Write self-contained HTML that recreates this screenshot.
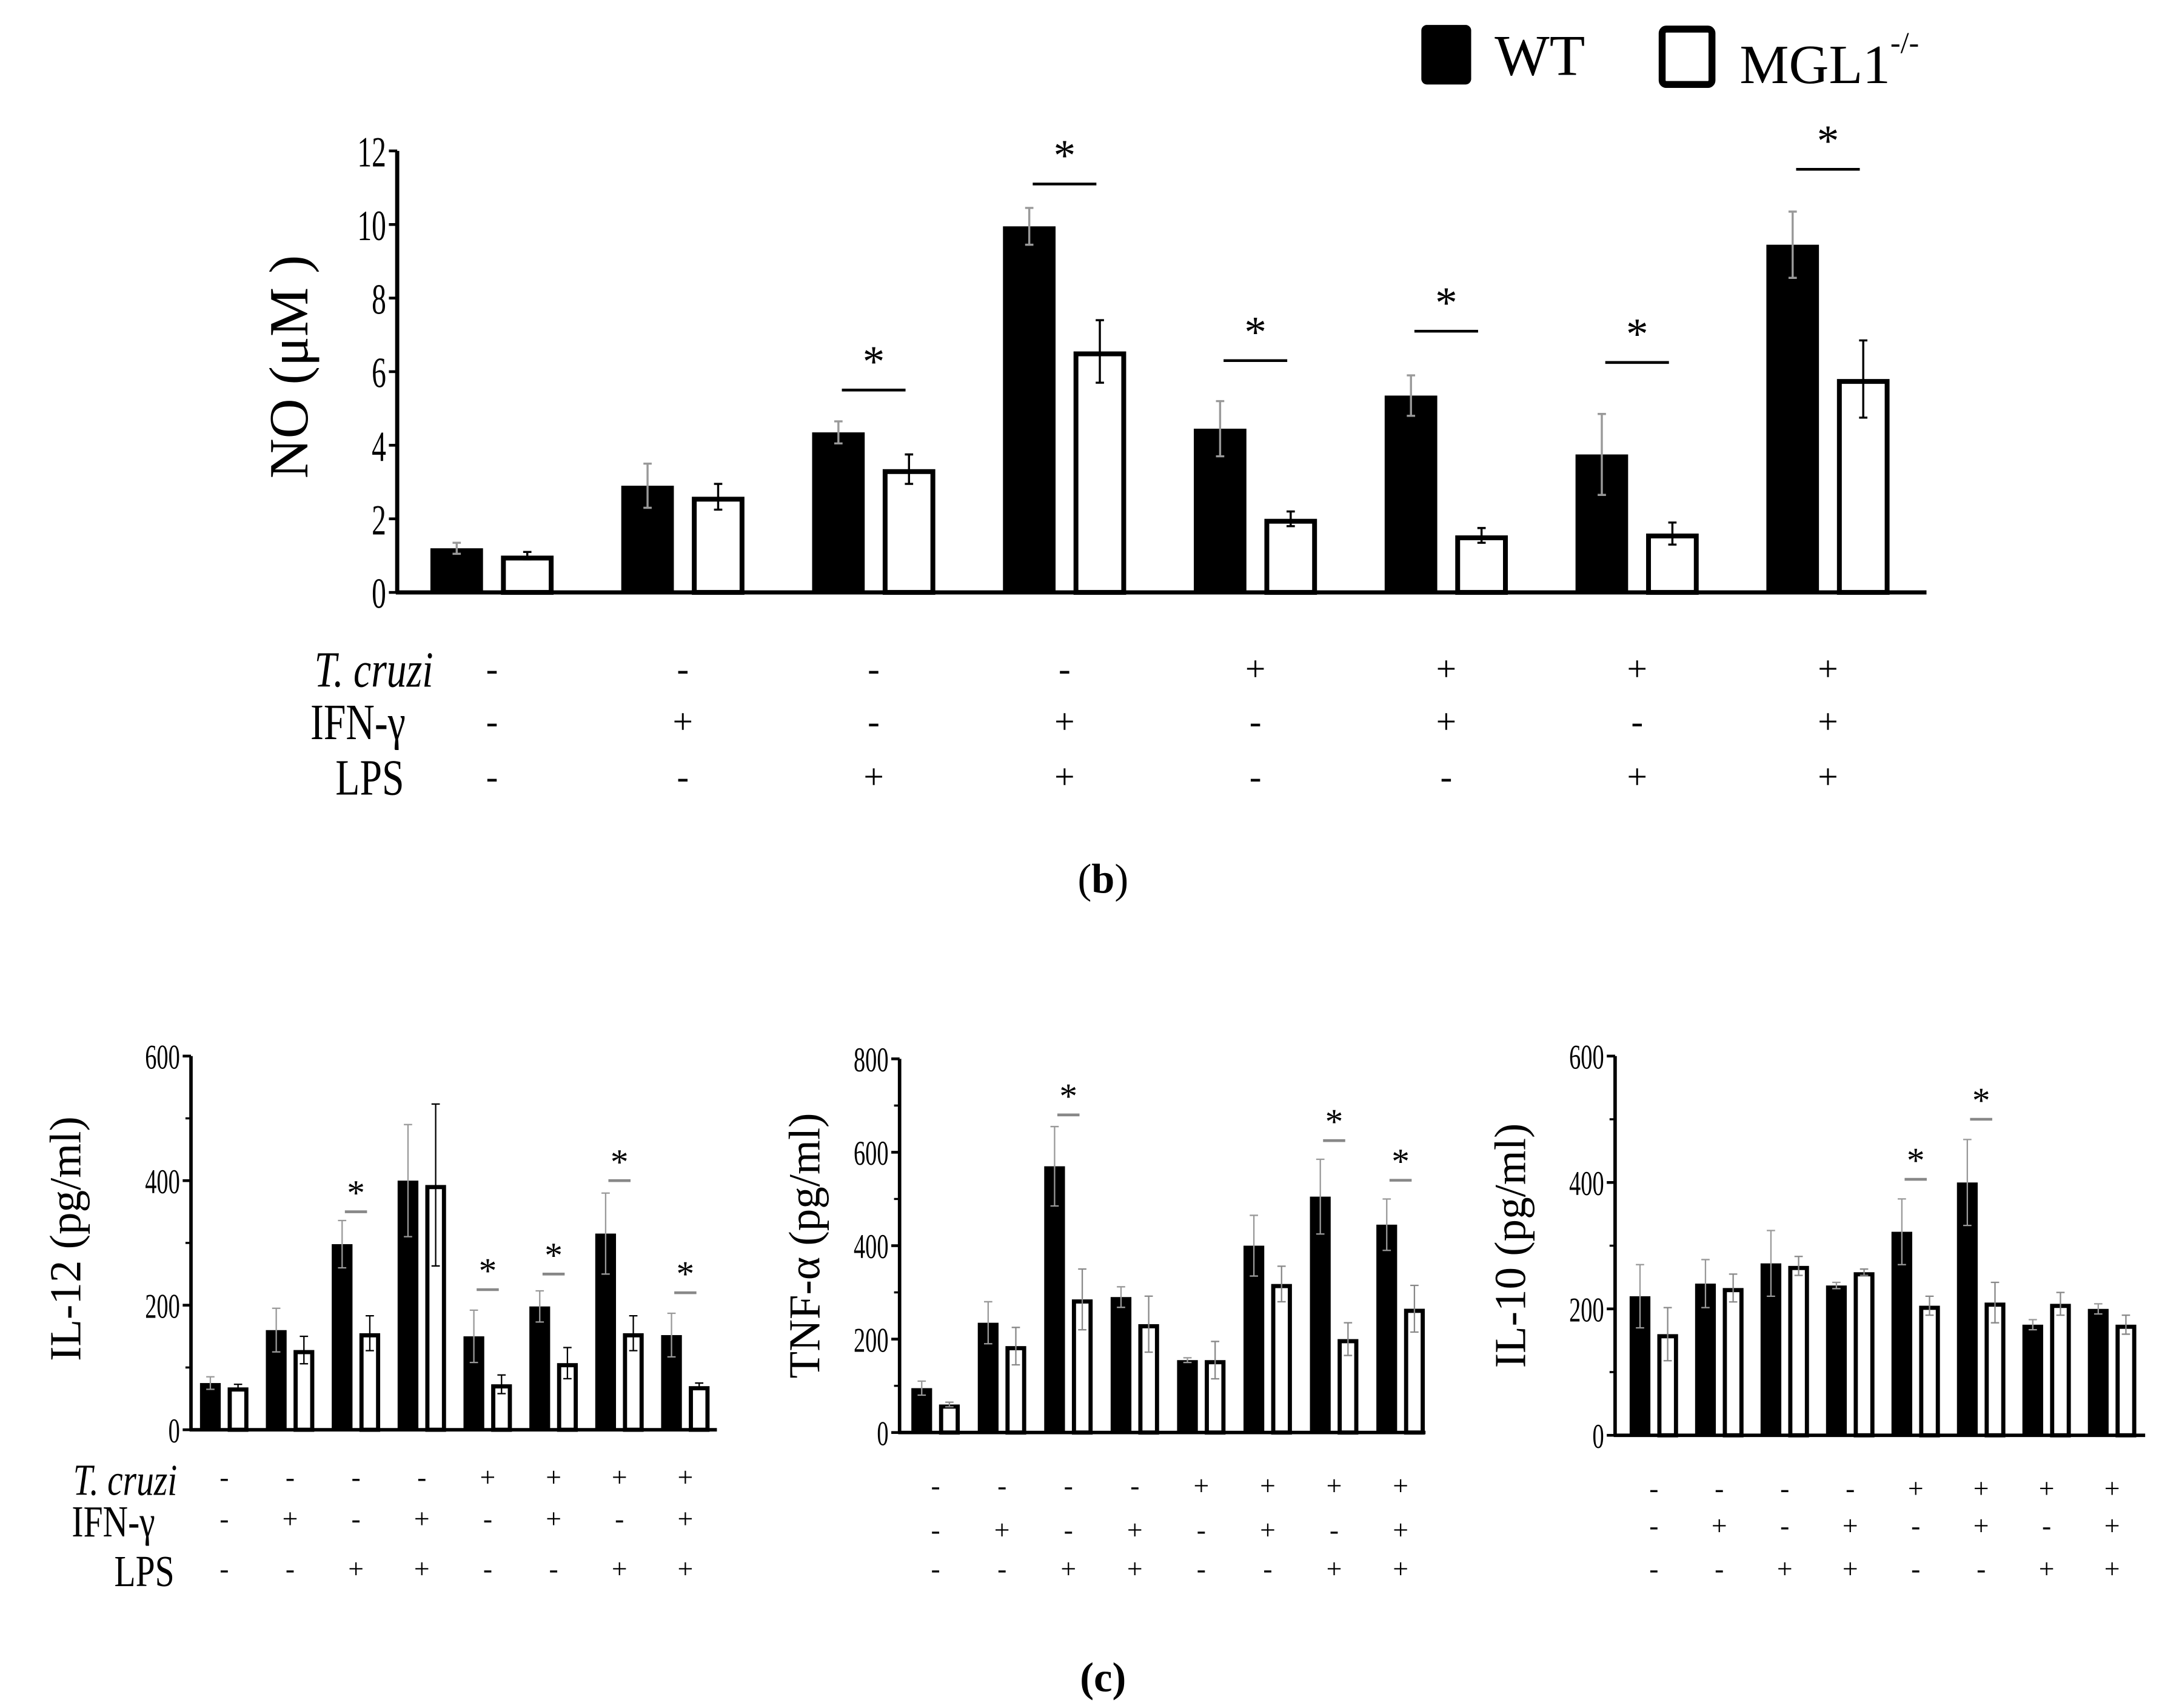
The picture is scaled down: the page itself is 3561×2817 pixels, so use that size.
<!DOCTYPE html>
<html><head><meta charset="utf-8"><style>
html,body{margin:0;padding:0;background:#fff}
svg{display:block}
text{font-family:"Liberation Serif","DejaVu Serif",serif;fill:#000}
</style></head>
<body>
<svg id="fig" width="3561" height="2817" viewBox="0 0 1560 1234" xmlns="http://www.w3.org/2000/svg">
<g>
<rect x="1027" y="18" width="36" height="43" rx="4" fill="#000"/>
<text x="1080" y="54" font-size="42">WT</text>
<rect x="1201" y="21" width="36" height="40" rx="3" fill="#fff" stroke="#000" stroke-width="5"/>
<text x="1257" y="60" font-size="40">MGL1<tspan font-size="22" dy="-22">-/-</tspan></text>
</g>
<text x="797" y="645" font-size="30" text-anchor="middle">(<tspan font-weight="bold">b</tspan>)</text>
<text x="797" y="1222" font-size="30" text-anchor="middle" font-weight="bold">(c)</text>
<g id="charts"></g>
</svg>
<script>
// ---- NO chart data ----
const noTicks = [0, 2, 4, 6, 8, 10, 12];
const noWT = [1.2, 2.9, 4.35, 9.95, 4.45, 5.35, 3.75, 9.45];
const noWTErr = [0.15, 0.6, 0.3, 0.5, 0.75, 0.55, 1.1, 0.9];
const noKO = [1.0, 2.6, 3.35, 6.55, 2.0, 1.55, 1.6, 5.8];
const noKOErr = [0.1, 0.35, 0.4, 0.85, 0.2, 0.2, 0.3, 1.05];
const noSigGroups = [2, 3, 4, 5, 6, 7];
const noSigLevels = [5.5, 11.1, 6.3, 7.1, 6.25, 11.5];
// ---- IL-12 ----
const il12Ticks = [0, 200, 400, 600];
const il12WT = [75, 160, 298, 400, 150, 198, 315, 152];
const il12WTErr = [10, 35, 38, 90, 42, 25, 65, 35];
const il12KO = [68, 128, 155, 393, 73, 107, 155, 70];
const il12KOErr = [5, 22, 28, 130, 15, 25, 28, 5];
const il12SigGroups = [2, 4, 5, 6, 7];
const il12SigLevels = [350, 225, 250, 400, 220];
// ---- TNF ----
const tnfTicks = [0, 200, 400, 600, 800];
const tnfWT = [95, 235, 570, 290, 155, 400, 505, 445];
const tnfWTErr = [15, 45, 85, 22, 5, 65, 80, 55];
const tnfKO = [60, 185, 285, 232, 155, 318, 200, 265];
const tnfKOErr = [5, 40, 65, 60, 40, 38, 35, 50];
const tnfSigGroups = [2, 6, 7];
const tnfSigLevels = [680, 625, 540];
// ---- IL-10 ----
const il10Ticks = [0, 200, 400, 600];
const il10WT = [220, 240, 272, 237, 322, 400, 175, 200];
const il10WTErr = [50, 38, 52, 5, 52, 68, 8, 8];
const il10KO = [160, 233, 268, 258, 205, 210, 208, 175];
const il10KOErr = [42, 22, 15, 5, 15, 32, 18, 15];
const il10SigGroups = [4, 5];
const il10SigLevels = [405, 500];
// ---- conditions ----
const tcruzi = ['-','-','-','-','+','+','+','+'];
const ifng = ['-','+','-','+','-','+','-','+'];
const lps = ['-','-','+','+','-','-','+','+'];

const NS = 'http://www.w3.org/2000/svg';
const root = document.getElementById('charts');
function mk(tag, attrs, parent, txt) {
  const e = document.createElementNS(NS, tag);
  for (const k in attrs) e.setAttribute(k, attrs[k]);
  if (txt !== undefined) e.textContent = txt;
  (parent || root).appendChild(e);
  return e;
}

function chart(cfg) {
  const g = mk('g', {});
  
  
  const ymax = cfg.ticks[cfg.ticks.length - 1];
  const y = v => cfg.y0 - (v / ymax) * (cfg.y0 - cfg.ytop);
  const xc = i => cfg.x1 + i * cfg.step;
  const ax = mk('line', {x1: cfg.ax, y1: cfg.ytop, x2: cfg.ax, y2: cfg.y0, stroke: '#000', 'stroke-width': cfg.aw}, g);
  
  
  cfg.ticks.forEach((t, k) => {
    const tl = mk('line', {x1: cfg.ax - 6, y1: y(t), x2: cfg.ax, y2: y(t), stroke: '#000', 'stroke-width': 2}, g);
    
    
    if (cfg.minor && k < cfg.ticks.length - 1) {
      const mv = (t + cfg.ticks[k + 1]) / 2;
      const ml = mk('line', {x1: cfg.ax - 4, y1: y(mv), x2: cfg.ax, y2: y(mv), stroke: '#000', 'stroke-width': 1.5}, g);
      
      
    }
    const tx = mk('text', {x: 0, y: cfg.tf * 0.36, 'font-size': cfg.tf, 'text-anchor': 'end', transform: `translate(${cfg.ax - 8},${y(t)}) scale(0.8,1.2)`}, g, String(t));
    
    
  });
  const yt = mk('text', {x: 0, y: 0, 'font-size': cfg.lf, 'text-anchor': 'middle', transform: `translate(${cfg.lx},${cfg.ly}) rotate(-90)`}, g, cfg.label);
  
  
  for (let i = 0; i < cfg.wt.length; i++) {
    const cx = xc(i), bw = cfg.bw;
    const b = mk('rect', {x: cx - bw / 2, y: y(cfg.wt[i]), width: bw, height: cfg.y0 - y(cfg.wt[i]), fill: '#000'}, g);
    
    
    const kx = cx + cfg.off, sw = cfg.ow;
    const kb = mk('rect', {x: kx - bw / 2 + sw / 2, y: y(cfg.ko[i]) + sw / 2, width: bw - sw, height: Math.max(0, cfg.y0 - y(cfg.ko[i]) - sw / 2), fill: '#fff', stroke: '#000', 'stroke-width': sw}, g);
    
    
    [[cx, cfg.wt[i], cfg.wte[i], '#999'], [kx, cfg.ko[i], cfg.koe[i], cfg.koEc]].forEach(([ex, v, e, c]) => {
      const eg = mk('path', {d: `M${ex},${y(v - e)}V${y(v + e)}M${ex - 3},${y(v + e)}H${ex + 3}M${ex - 3},${y(v - e)}H${ex + 3}`, stroke: c, 'stroke-width': cfg.ew, fill: 'none'}, g);
      
      
    });
  }
  const xa = mk('line', {x1: cfg.ax - 1, y1: cfg.y0, x2: cfg.xend, y2: cfg.y0, stroke: '#000', 'stroke-width': cfg.aw}, g);
  
  
  cfg.sg.forEach((gi, k) => {
    const mx = xc(gi) + cfg.off / 2;
    const sl = mk('line', {x1: mx - cfg.sl, y1: y(cfg.sv[k]), x2: mx + cfg.sl, y2: y(cfg.sv[k]), stroke: cfg.sc, 'stroke-width': 2}, g);
    
    
    const st = mk('text', {x: mx, y: y(cfg.sv[k]) - cfg.sy, 'font-size': cfg.sf, 'text-anchor': 'middle'}, g, '*');
    
    
  });
  [tcruzi, ifng, lps].forEach((arr, r) => {
    arr.forEach((s, i) => {
      const t = mk('text', {x: xc(i) + cfg.off / 2, y: cfg.rows[r], 'font-size': cfg.cf, 'text-anchor': 'middle', 'font-family': 'Liberation Sans, sans-serif'}, g, s);
      
      
    });
  });
  if (cfg.rowLabels) {
    const names = ['T. cruzi', 'IFN-γ', 'LPS'];
    names.forEach((n, r) => {
      const t = mk('text', {x: 0, y: 0, 'font-size': cfg.rf, 'text-anchor': 'end', 'font-style': r === 0 ? 'italic' : 'normal', transform: `translate(${cfg.rlx[r]},${cfg.rows[r] + cfg.rly}) scale(0.9,1.15)`}, g, n);
      
      
    });
  }
}

chart({name: 'no-chart', ticks: noTicks, wt: noWT, wte: noWTErr, ko: noKO, koe: noKOErr, sg: noSigGroups, sv: noSigLevels,
  ax: 287, ytop: 109, y0: 428, xend: 1392, x1: 330, step: 137.9, off: 51, bw: 38, ow: 3.5, aw: 3, ew: 1.5, koEc: '#000',
  tf: 26, minor: false, label: 'NO (μM )', lf: 40, lx: 222, ly: 265, sl: 23, sc: '#000', sf: 32, sy: 10,
  rows: [492, 530, 570], cf: 26, rowLabels: true, rlx: [313, 293, 292], rly: 4, rf: 32});
chart({name: 'il12-chart', ticks: il12Ticks, wt: il12WT, wte: il12WTErr, ko: il12KO, koe: il12KOErr, sg: il12SigGroups, sv: il12SigLevels,
  ax: 138, ytop: 763, y0: 1033, xend: 518, x1: 152, step: 47.6, off: 20, bw: 15, ow: 3, aw: 2.5, ew: 1, koEc: '#000',
  tf: 21, minor: true, label: 'IL-12 (pg/ml)', lf: 32, lx: 58, ly: 895, sl: 8, sc: '#888', sf: 26, sy: 5,
  rows: [1074, 1104, 1140], cf: 20, rowLabels: true, rlx: [128, 112, 126], rly: 6, rf: 28});
chart({name: 'tnf-chart', ticks: tnfTicks, wt: tnfWT, wte: tnfWTErr, ko: tnfKO, koe: tnfKOErr, sg: tnfSigGroups, sv: tnfSigLevels,
  ax: 650, ytop: 765, y0: 1035, xend: 1030, x1: 666, step: 48.0, off: 20, bw: 15, ow: 3, aw: 2.5, ew: 1, koEc: '#888',
  tf: 21, minor: true, label: 'TNF-α (pg/ml)', lf: 32, lx: 592, ly: 900, sl: 8, sc: '#888', sf: 26, sy: 5,
  rows: [1080, 1112, 1140], cf: 20, rowLabels: false});
chart({name: 'il10-chart', ticks: il10Ticks, wt: il10WT, wte: il10WTErr, ko: il10KO, koe: il10KOErr, sg: il10SigGroups, sv: il10SigLevels,
  ax: 1167, ytop: 763, y0: 1037, xend: 1550, x1: 1185, step: 47.3, off: 20, bw: 15, ow: 3, aw: 2.5, ew: 1, koEc: '#888',
  tf: 21, minor: true, label: 'IL-10 (pg/ml)', lf: 32, lx: 1102, ly: 900, sl: 8, sc: '#888', sf: 26, sy: 5,
  rows: [1082, 1109, 1140], cf: 20, rowLabels: false});
</script>
</body></html>
